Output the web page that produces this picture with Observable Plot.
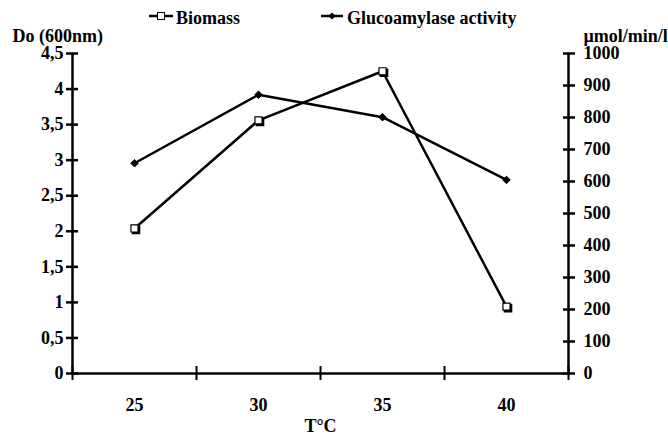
<!DOCTYPE html>
<html>
<head>
<meta charset="utf-8">
<script src="https://cdn.jsdelivr.net/npm/d3@7"></script>
<script src="https://cdn.jsdelivr.net/npm/@observablehq/plot@0.6"></script>
<style>
  html, body { margin: 0; padding: 0; background: #fff; }
  #wrap { position: relative; width: 668px; height: 437px; overflow: hidden; }
  #legend { position: absolute; left: 0; top: 0; }
  text { font-family: 'Liberation Serif', 'Times New Roman', serif; font-weight: bold; }
</style>
</head>
<body>
<div id="wrap"></div>
<script>
// ---- data ----
const temps = [25, 30, 35, 40];
const biomass = [2.04, 3.56, 4.25, 0.94];          // Do (600nm)
const glucoamylase = [657, 871, 801, 605];         // µmol/min/l
const leftTicks = [0, 0.5, 1, 1.5, 2, 2.5, 3, 3.5, 4, 4.5];
const rightTicks = [0, 100, 200, 300, 400, 500, 600, 700, 800, 900, 1000];
const xLabels = [25, 30, 35, 40];
const xBounds = [22.5, 27.5, 32.5, 37.5, 42.5];
const leftMax = 4.5, rightMax = 1000;
const seriesNames = ["Biomass", "Glucoamylase activity"];

const toLeft = v => v * leftMax / rightMax;
const bio = temps.map((t, i) => ({t, v: biomass[i]}));
const glu = temps.map((t, i) => ({t, v: toLeft(glucoamylase[i])}));

const font = "'Liberation Serif', 'Times New Roman', serif";

const chart = Plot.plot({
  width: 668,
  height: 437,
  marginLeft: 72,
  marginRight: 100,
  marginTop: 53,
  marginBottom: 64,
  style: {fontFamily: font, fontSize: "18px", fontWeight: "bold", color: "#000", background: "#fff"},
  x: {type: "linear", domain: [xBounds[0], xBounds[xBounds.length - 1]]},
  y: {domain: [0, leftMax]},
  marks: [
    // axis lines
    Plot.ruleX([xBounds[0], xBounds[xBounds.length - 1]], {stroke: "#000", strokeWidth: 2.5}),
    Plot.ruleY([0], {stroke: "#000", strokeWidth: 2.5}),
    // left axis
    Plot.axisY(leftTicks, {
      anchor: "left", tickSize: 12, dx: 6, tickPadding: 3, strokeWidth: 2.5,
      tickFormat: d => String(d).replace(".", ","), label: null
    }),
    // right axis
    Plot.axisY(rightTicks.map(toLeft), {
      anchor: "right", tickSize: 12, dx: -6, tickPadding: 9, strokeWidth: 2.5,
      tickFormat: d => String(Math.round(d * rightMax / leftMax)), label: null
    }),
    // x axis ticks at category boundaries
    Plot.axisX(xBounds, {anchor: "bottom", tickSize: 14, dy: -7, strokeWidth: 2, tickFormat: () => "", label: null}),
    // x axis labels at category centers
    Plot.axisX(xLabels, {anchor: "bottom", tickSize: 0, tickPadding: 25, label: null}),
    // axis titles
    Plot.text(["Do (600nm)"], {frameAnchor: "top-left", textAnchor: "start", dx: -60, dy: -24, fill: "#000"}),
    Plot.text(["µmol/min/l"], {frameAnchor: "top-right", textAnchor: "start", dx: 15, dy: -24, fill: "#000"}),
    Plot.text(["T°C"], {frameAnchor: "bottom", lineAnchor: "top", dy: 46, fill: "#000"}),
    // series
    Plot.line(glu, {x: "t", y: "v", stroke: "#000", strokeWidth: 2.5}),
    Plot.line(bio, {x: "t", y: "v", stroke: "#000", strokeWidth: 2.5}),
    Plot.dot(glu, {x: "t", y: "v", symbol: "diamond2", r: 3.4, fill: "#000", stroke: "#000", strokeWidth: 1}),
    Plot.dot(bio, {x: "t", y: "v", symbol: "square", r: 4, fill: "#000", stroke: "#000", dx: 1.5, dy: 1.5}),
    Plot.dot(bio, {x: "t", y: "v", symbol: "square", r: 4, fill: "#fff", stroke: "#000", strokeWidth: 1.2})
  ]
});

const wrap = document.getElementById("wrap");
wrap.appendChild(chart);

// legend overlay (above the plot area)
const lg = d3.create("svg").attr("id", "legend").attr("width", 668).attr("height", 45);
const items = [
  {name: seriesNames[0], x0: 149, x1: 173, tx: 176, sym: "square"},
  {name: seriesNames[1], x0: 321, x1: 343, tx: 347, sym: "diamond"}
];
const ly = 16;
for (const it of items) {
  const g = lg.append("g");
  g.append("line").attr("x1", it.x0).attr("x2", it.x1).attr("y1", ly).attr("y2", ly)
    .attr("stroke", "#000").attr("stroke-width", 2.5);
  const cx = (it.x0 + it.x1) / 2;
  if (it.sym === "square") {
    g.append("rect").attr("x", cx - 3.5).attr("y", ly - 3.5).attr("width", 7).attr("height", 7)
      .attr("fill", "#fff").attr("stroke", "#000").attr("stroke-width", 1);
  } else {
    g.append("path").attr("d", `M${cx},${ly - 3.5}L${cx + 3.5},${ly}L${cx},${ly + 3.5}L${cx - 3.5},${ly}Z`)
      .attr("fill", "#000");
  }
  g.append("text").attr("x", it.tx).attr("y", 24).attr("font-size", 18)
    .attr("font-family", font).attr("font-weight", "bold").attr("fill", "#000").text(it.name);
}
wrap.appendChild(lg.node());
</script>
</body>
</html>
